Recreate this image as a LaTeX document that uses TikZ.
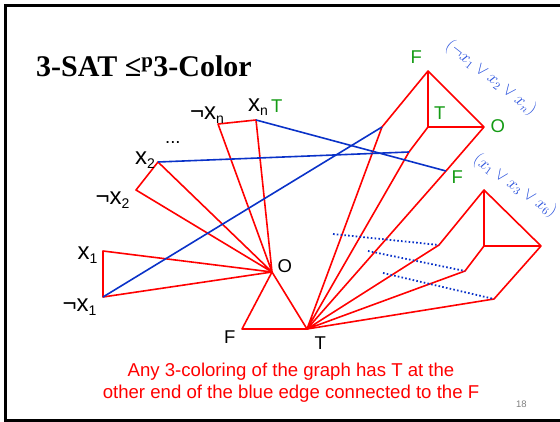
\documentclass[tikz,border=0pt]{standalone}
\usepackage{fontspec}
\setmainfont{Liberation Serif}
\newfontfamily\arial{Liberation Sans}
\definecolor{bblue}{RGB}{10,50,200}
\definecolor{hblue}{RGB}{40,80,220}
\definecolor{ggreen}{RGB}{20,155,20}
\newcommand\sbs[1]{\raisebox{-4pt}{\fontsize{14}{14}\selectfont #1}}
\tikzset{
  redline/.style={draw=red, line width=1.6pt, line join=round},
  blueline/.style={draw=bblue, line width=1.6pt},
  dotline/.style={draw=bblue, line width=1.8pt, dash pattern=on 1.6pt off 2.2pt},
  lit/.style={font=\arial\fontsize{24}{28}\selectfont, anchor=base west, inner sep=0pt},
  lab/.style={font=\arial\fontsize{18.5}{22}\selectfont, anchor=base west, inner sep=0pt},
  glab/.style={lab, text=ggreen},
  hand/.style={text=hblue, inner sep=0pt, font=\fontsize{16}{18}\selectfont}
}
\begin{document}
\begin{tikzpicture}[x=1pt,y=-1pt]
\useasboundingbox (0,0) rectangle (560,422);
\clip (0,0) rectangle (560,422);
\draw[line width=3pt] (5.5,5.5) rectangle (575,420.5);

% title
\node[anchor=base west, inner sep=0pt, font=\bfseries\fontsize{30}{34}\selectfont] (title) at (36,77) {3-SAT ≤\textsuperscript{p}3-Color};

% vertices
\coordinate (O) at (272,272);
\coordinate (Fb) at (242,329);
\coordinate (Tb) at (307,329);
\coordinate (x1) at (103,251);
\coordinate (nx1) at (103,297);
\coordinate (x2) at (158,162);
\coordinate (nx2) at (136,190);
\coordinate (nxn) at (218,124);
\coordinate (xn) at (256,120);
% clause 1
\coordinate (cF) at (428,71);
\coordinate (cT) at (428,127);
\coordinate (cO) at (484,127);
\coordinate (ca) at (382,127);
\coordinate (cb) at (409,152);
\coordinate (cc) at (446,171);
% clause 2
\coordinate (dF) at (484,190);
\coordinate (dT) at (484,246);
\coordinate (dO) at (541,246);
\coordinate (da) at (439,245);
\coordinate (db) at (465,271);
\coordinate (dc) at (494,299);
% dotted starts
\coordinate (p1) at (333,234);
\coordinate (p2) at (368,251);
\coordinate (p3) at (383,273);

% red edges
\draw[redline] (x1) -- (nx1) -- (O) -- cycle;
\draw[redline] (x2) -- (nx2) -- (O) -- cycle;
\draw[redline] (nxn) -- (xn) -- (O) -- cycle;
\draw[redline] (O) -- (Fb) -- (Tb) -- cycle;
\draw[redline] (Tb) -- (ca) -- (cF) -- (cT) -- (cb) -- (Tb);
\draw[redline] (Tb) -- (cc) -- (cO) -- (cF);
\draw[redline] (cT) -- (cO);
\draw[redline] (Tb) -- (da) -- (dF) -- (dT) -- (db) -- (Tb);
\draw[redline] (Tb) -- (dc) -- (dO) -- (dF);
\draw[redline] (dT) -- (dO);

% blue edges
\draw[blueline] (nx1) -- (ca);
\draw[blueline] (x2) -- (cb);
\draw[blueline] (xn) -- (cc);
\draw[dotline] (p1) -- (da);
\draw[dotline] (p2) -- (db);
\draw[dotline] (p3) -- (dc);

% literal labels
\node[lit] (lx1) at (77.5,259.5) {x\sbs{1}};
\node[lit] (lnx1) at (62.5,311.5) {¬x\sbs{1}};
\node[lit] (lx2) at (135,164.5) {x\sbs{2}};
\node[lit] (lnx2) at (95.5,205) {¬x\sbs{2}};
\node[lab] (dots) at (165,144) {...};
\node[lit] (lnxn) at (190,119.5) {¬x\sbs{n}};
\node[lit] (lxn) at (248,111.7) {x\sbs{n}};
\node[glab] (lT1) at (271,113) {T};
\node[lab] (lO) at (277.5,272.5) {O};
\node[lab] (lF) at (224,344) {F};
\node[lab] (lT) at (314.5,349.3) {T};
\node[glab] (gF) at (410.5,64) {F};
\node[glab] (gT) at (434,120) {T};
\node[glab] (gO) at (490.5,132.5) {O};
\node[glab] (gF2) at (451.5,183.3) {F};

% clause labels
\node[hand, rotate=-38] (cl1) at (491,78) {$(\neg x_1 \vee x_2 \vee x_n)$};
\node[hand, rotate=-35] (cl2) at (515,186) {$(x_1 \vee x_3 \vee x_6)$};

% caption
\node[font=\arial\fontsize{18.6}{21.6}\selectfont, text=red, anchor=base, inner sep=0pt] (cap1) at (291,376.7) {Any 3-coloring of the graph has T at the};
\node[font=\arial\fontsize{18.6}{21.6}\selectfont, text=red, anchor=base, inner sep=0pt] (cap2) at (291,398.3) {other end of the blue edge connected to the F};
\node[font=\arial\fontsize{9.5}{11}\selectfont, text=gray, anchor=base west, inner sep=0pt] (pg) at (516,407.3) {18};
\end{tikzpicture}
\end{document}
